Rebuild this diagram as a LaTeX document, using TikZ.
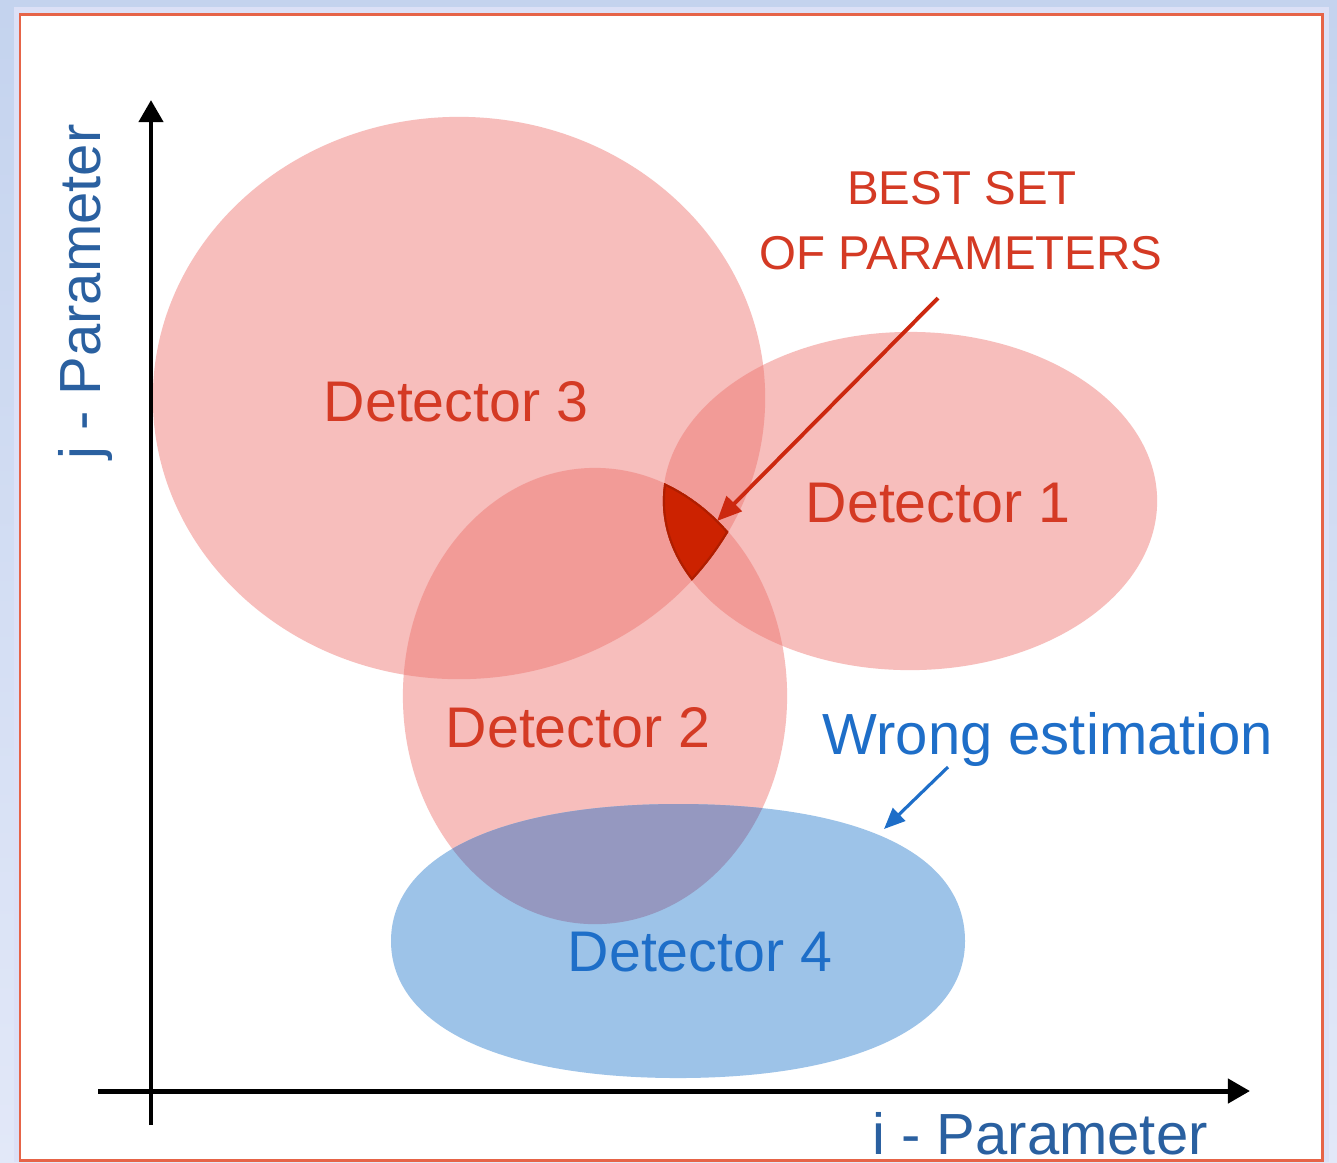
\documentclass[tikz,border=0pt]{standalone}
\usepackage{fontspec}
\setmainfont{Liberation Sans}
\usetikzlibrary{arrows.meta}
\definecolor{bgtop}{RGB}{196,211,238}
\definecolor{bgbot}{RGB}{226,232,248}
\definecolor{bandc}{RGB}{220,224,246}
\definecolor{framec}{RGB}{230,100,72}
\definecolor{pinkbase}{RGB}{238,114,109}
\definecolor{blued}{RGB}{157,195,232}
\definecolor{overlapc}{RGB}{149,152,192}
\definecolor{darkredc}{RGB}{204,34,0}
\definecolor{darkedge}{RGB}{175,30,0}
\definecolor{redtext}{RGB}{212,58,36}
\definecolor{bluetext}{RGB}{30,110,200}
\definecolor{axistext}{RGB}{42,96,160}
\definecolor{arrowred}{RGB}{204,40,15}
\tikzset{
  detpink/.style={fill=pinkbase, fill opacity=0.46},
  axisline/.style={line width=1.4pt, -{Triangle[length=6.3pt,width=6.8pt]}},
  redlabel/.style={text=redtext, inner sep=0pt, anchor=base, font=\fontsize{16.3pt}{19pt}\selectfont},
  bluelabel/.style={text=bluetext, inner sep=0pt, anchor=base, font=\fontsize{16.3pt}{19pt}\selectfont},
  bestlabel/.style={text=redtext, inner sep=0pt, anchor=base, font=\fontsize{13.5pt}{16pt}\selectfont},
  axislabel/.style={text=axistext, inner sep=0pt, anchor=base, font=\fontsize{16.5pt}{19pt}\selectfont},
  redarrow/.style={draw=arrowred, line width=1.1pt, -{Triangle[length=7pt,width=6pt]}},
  bluearrow/.style={draw=bluetext, line width=0.9pt, -{Triangle[length=6pt,width=5pt]}}
}
\def\dthree{(459,398) ellipse [x radius=3.06cm, y radius=2.81cm]}
\def\done{(910,501) ellipse [x radius=2.47cm, y radius=1.69cm]}
\def\dtwo{(595,696) ellipse [x radius=1.92cm, y radius=2.28cm]}
\def\dfour{(965,941) .. controls (965,1026) and (856,1078) .. (678,1078) .. controls (500,1078) and (391,1026) .. (391,941) .. controls (391,856) and (500,804) .. (678,804) .. controls (856,804) and (965,852) .. (965,941) -- cycle}
\begin{document}
\begin{tikzpicture}[x=0.01cm,y=-0.01cm]
\useasboundingbox (0,0) rectangle (1337,1162);
% background
\shade[top color=bgtop,bottom color=bgbot] (0,0) rectangle (1337,1162);
\fill[bandc] (14,7) rectangle (1329,1162);
\draw[framec, line width=0.85pt, fill=white] (20,14) rectangle (1322,1160);
% detector regions
\path[detpink] \dthree;
\path[detpink] \done;
\path[detpink] \dtwo;
\fill[blued] \dfour;
\begin{scope}
  \clip \dtwo;
  \fill[overlapc] \dfour;
\end{scope}
% best set (intersection of detectors 1,2,3)
\begin{scope}
  \clip \dthree;
  \clip \done;
  \clip \dtwo;
  \fill[darkredc] \dtwo;
  \draw[darkedge, line width=1.2pt] \dthree;
  \draw[darkedge, line width=1.2pt] \done;
  \draw[darkedge, line width=1.2pt] \dtwo;
\end{scope}
% axes
\coordinate (yfoot) at (151,1125);
\coordinate (ytip) at (151,100);
\coordinate (xfoot) at (98,1091);
\coordinate (xtip) at (1250,1091);
\draw[axisline] (yfoot) -- (ytip);
\draw[axisline] (xfoot) -- (xtip);
\node[axislabel, rotate=90] (jlab) at (100,292) {j - Parameter};
\node[axislabel] (ilab) at (1040,1154) {i - Parameter};
% labels
\node[redlabel] (d3) at (456,421) {Detector 3};
\node[redlabel] (d1) at (938,522) {Detector 1};
\node[redlabel] (d2) at (578,747) {Detector 2};
\node[bluelabel] (d4) at (700,971) {Detector 4};
\node[bestlabel] (best1) at (962,204) {BEST SET};
\node[bestlabel] (best2) at (961,269) {OF PARAMETERS};
\node[bluelabel, font=\fontsize{16.5pt}{19pt}\selectfont] (wrong) at (1048,754) {Wrong estimation};
% arrows
\coordinate (rs) at (938,298);
\coordinate (re) at (717,521);
\draw[redarrow] (rs) -- (re);
\coordinate (bs) at (948,767);
\coordinate (be) at (884,829);
\draw[bluearrow] (bs) -- (be);
\end{tikzpicture}
\end{document}
